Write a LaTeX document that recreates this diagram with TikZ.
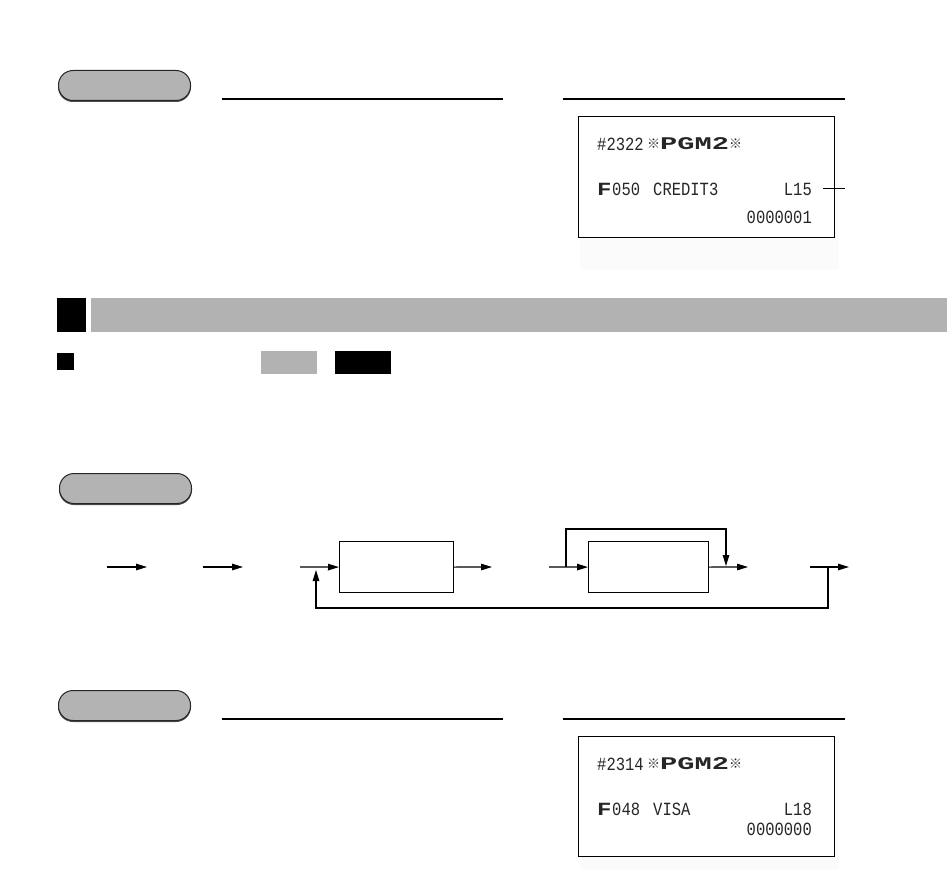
\documentclass[tikz,border=0pt]{standalone}
\usepackage{fontspec}
\setmainfont{Liberation Sans}
\newfontfamily\rmono{Liberation Mono}
\newfontfamily\cjkfont{Noto Sans CJK JP}
\usetikzlibrary{arrows.meta}
\definecolor{pillgray}{HTML}{B3B3B3}
\definecolor{hdrgray}{HTML}{B2B2B2}
\definecolor{paper}{HTML}{FBFBFB}
\newcommand{\rt}[1]{\scalebox{1}[1.2]{#1}}
\begin{document}
\begin{tikzpicture}[x=1pt,y=-1pt,
  pill/.style={draw=black!85, line width=1pt, fill=pillgray, rounded corners=14.5pt,
    minimum width=132pt, minimum height=30pt, inner sep=0pt, anchor=north west},
  pillshadow/.style={draw=black!70, line width=1pt, fill=black!70, rounded corners=14.5pt,
    minimum width=132pt, minimum height=30pt, inner sep=0pt, anchor=north west},
  rule/.style={line width=1.3pt},
  flow/.style={line width=1.2pt},
  arr/.style={flow, -{Triangle[length=11pt,width=6.5pt]}},
  fbox/.style={draw, line width=1.2pt, minimum height=51pt, inner sep=0pt, anchor=north west},
  rcpt/.style={draw, fill=white, line width=1.3pt, minimum width=256pt, minimum height=121pt,
    inner sep=0pt, anchor=north west},
  rtxt/.style={inner sep=0pt, font=\rmono\fontsize{15.5}{15.5}\selectfont, text=black!85},
  refmark/.style={inner sep=0pt, font=\cjkfont\fontsize{13}{13}\selectfont, text=black!85},
]
\useasboundingbox (0,0) rectangle (947,896);

% ---------- top section ----------
\node[pillshadow] (pill1s) at (58,71) {};
\node[pill] (pill1) at (58,70) {};
\draw[rule] (222,99) -- (503,99);
\draw[rule] (563,99) -- (845,99);

\fill[paper] (580,116) rectangle (839,270);
\node[rcpt] (r1) at (578,116) {};
\node[rtxt, anchor=west] (r1a) at (597,144) {\rt{\#2322}};
\node[refmark, anchor=west] (r1b) at (647,144) {※};
\node[rtxt, anchor=west] (r1c) at (660,144) {\scalebox{1.85}[1.15]{\bfseries PGM2}};
\node[refmark, anchor=west] (r1d) at (729,144) {※};
\node[rtxt, anchor=west] (r1e) at (597,189) {\scalebox{1.55}[1.2]{\bfseries F}};
\node[rtxt, anchor=west] (r1f) at (612,189) {\rt{050}};
\node[rtxt, anchor=west] (r1g) at (653,189) {\rt{CREDIT3}};
\node[rtxt, anchor=east] (r1h) at (812,189) {\rt{L15}};
\node[rtxt, anchor=east] (r1i) at (812,217) {\rt{0000001}};
\coordinate (l15end) at (845,189);
\draw[line width=1pt] ([xshift=11pt]r1h.east) -- (l15end);

% ---------- section header ----------
\fill[black] (57,298) rectangle (86,332);
\fill[hdrgray] (91,298) rectangle (947,332);
\fill[black] (57,353) rectangle (74,370);
\fill[hdrgray] (261,351) rectangle (317,374);
\fill[black] (335,351) rectangle (391,374);

% ---------- flow ----------
\node[pillshadow] (pill2s) at (59,474) {};
\node[pill] (pill2) at (59,473) {};

\node[fbox, minimum width=114pt] (b1) at (339,541) {};
\node[fbox, minimum width=120pt] (b2) at (588,541) {};

\coordinate (a1s) at (107,567); \coordinate (a1e) at (147,567);
\coordinate (a2s) at (203,567); \coordinate (a2e) at (243,567);
\coordinate (a3s) at (300,567);
\coordinate (a4e) at (492,567);
\coordinate (a5s) at (549,567);
\coordinate (by) at (566,567);
\coordinate (bye) at (726,566);
\coordinate (a6e) at (748,567);
\coordinate (a7s) at (810,567); \coordinate (a7e) at (849,567);
\coordinate (fb) at (828,567);
\coordinate (fbe) at (316,570);

\draw[arr] (a1s) -- (a1e);
\draw[arr] (a2s) -- (a2e);
\draw[arr] (a3s) -- (b1.west);
\draw[arr] (b1.east) -- (a4e);
\draw[arr] (a5s) -- (b2.west);
\draw[arr] (by) -- (566,529) -- (726,529) -- (bye);
\draw[arr] (b2.east) -- (a6e);
\draw[arr] (a7s) -- (a7e);
\draw[arr] (fb) -- (828,608) -- (316,608) -- (fbe);

% ---------- bottom section ----------
\node[pillshadow] (pill3s) at (58,691) {};
\node[pill] (pill3) at (58,690) {};
\draw[rule] (222,719) -- (503,719);
\draw[rule] (563,719) -- (845,719);

\fill[paper] (580,736) rectangle (839,870);
\node[rcpt, minimum height=120pt] (r2) at (578,736) {};
\node[rtxt, anchor=west] (r2a) at (597,764) {\rt{\#2314}};
\node[refmark, anchor=west] (r2b) at (647,764) {※};
\node[rtxt, anchor=west] (r2c) at (660,764) {\scalebox{1.85}[1.15]{\bfseries PGM2}};
\node[refmark, anchor=west] (r2d) at (729,764) {※};
\node[rtxt, anchor=west] (r2e) at (597,809) {\scalebox{1.55}[1.2]{\bfseries F}};
\node[rtxt, anchor=west] (r2f) at (612,809) {\rt{048}};
\node[rtxt, anchor=west] (r2g) at (653,809) {\rt{VISA}};
\node[rtxt, anchor=east] (r2h) at (812,809) {\rt{L18}};
\node[rtxt, anchor=east] (r2i) at (812,829) {\rt{0000000}};
\end{tikzpicture}
\end{document}
